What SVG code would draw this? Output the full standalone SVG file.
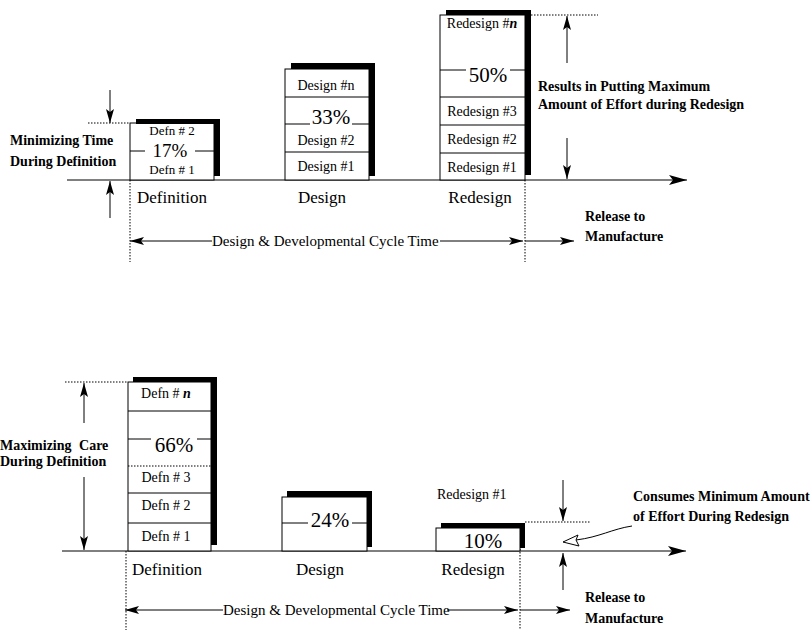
<svg xmlns="http://www.w3.org/2000/svg" width="811" height="630" viewBox="0 0 811 630">
<style>
text{font-family:"Liberation Serif","Times New Roman",serif;fill:#000}
.lb{font-size:14px}
.sm{font-size:13px}
.pc{font-size:21px}
.ph{font-size:17px}
.an{font-size:14px;font-weight:bold}
.cy{font-size:15px}
.ln{stroke:#000;stroke-width:1;fill:none}
.bx{stroke:#000;stroke-width:1;fill:#fff}
.dt{stroke:#000;stroke-width:1;fill:none;stroke-dasharray:1.5 1.5}
.hv{fill:#000}
</style>
<defs>
<marker id="ah" viewBox="0 0 14 8" refX="14" refY="4" markerWidth="14" markerHeight="8" markerUnits="userSpaceOnUse" orient="auto-start-reverse">
<path d="M0,0 L14,4 L0,8 L3,4 Z" fill="#000"/>
</marker>
<marker id="ahb" viewBox="0 0 18 10" refX="18" refY="5" markerWidth="18" markerHeight="10" markerUnits="userSpaceOnUse" orient="auto">
<path d="M0,0 L18,5 L0,10 L4,5 Z" fill="#000"/>
</marker>
</defs>
<rect width="811" height="630" fill="#fff"/>

<g id="connectors">
<line class="ln" x1="67" y1="180" x2="687" y2="180" marker-end="url(#ahb)"/>
<line class="dt" x1="130" y1="180" x2="130" y2="262"/>
<line class="dt" x1="525" y1="180" x2="525" y2="262"/>
<line class="dt" x1="88" y1="123" x2="130" y2="123"/>
<line class="dt" x1="531" y1="15" x2="598" y2="15"/>
<line class="ln" x1="110" y1="90" x2="110" y2="123" marker-end="url(#ah)"/>
<line class="ln" x1="110" y1="218" x2="110" y2="181" marker-end="url(#ah)"/>
<line class="ln" x1="567" y1="63" x2="567" y2="16" marker-end="url(#ah)"/>
<line class="ln" x1="567" y1="138" x2="567" y2="179" marker-end="url(#ah)"/>
<line class="ln" x1="130" y1="241" x2="212" y2="241" marker-start="url(#ah)"/>
<line class="ln" x1="440" y1="241" x2="523" y2="241" marker-end="url(#ah)"/>
<line class="ln" x1="525" y1="241" x2="574" y2="241" marker-end="url(#ah)"/>
<line class="ln" x1="62" y1="551" x2="686" y2="551" marker-end="url(#ahb)"/>
<line class="dt" x1="126" y1="551" x2="126" y2="630"/>
<line class="dt" x1="520" y1="528" x2="520" y2="630"/>
<line class="dt" x1="65" y1="382" x2="128" y2="382"/>
<line class="dt" x1="525" y1="522" x2="591" y2="522"/>
<line class="ln" x1="84" y1="423" x2="84" y2="383" marker-end="url(#ah)"/>
<line class="ln" x1="84" y1="477" x2="84" y2="550" marker-end="url(#ah)"/>
<line class="ln" x1="563" y1="480" x2="563" y2="521" marker-end="url(#ah)"/>
<line class="ln" x1="563" y1="590" x2="563" y2="553" marker-end="url(#ah)"/>
<line class="ln" x1="125" y1="610" x2="223" y2="610" marker-start="url(#ah)"/>
<line class="ln" x1="447" y1="610" x2="518" y2="610" marker-end="url(#ah)"/>
<line class="ln" x1="520" y1="610" x2="570" y2="610" marker-end="url(#ah)"/>
<path class="ln" d="M632,526 C612,529 600,537 576,540"/>
<path d="M563,542 L578,535 L576,540 L579,546 Z" fill="#fff" stroke="#000" stroke-width="1"/>
</g>

<g id="top-definition">
<rect class="bx" x="130" y="123" width="84" height="57"/>
<rect class="hv" x="136" y="119" width="84" height="5"/>
<rect class="hv" x="214" y="119" width="6" height="57"/>
<line class="ln" x1="130" y1="151" x2="145" y2="151"/>
<line class="ln" x1="195" y1="151" x2="214" y2="151"/>
<text class="sm" x="172" y="135" text-anchor="middle">Defn # 2</text>
<text x="170" y="157" text-anchor="middle" font-size="19">17%</text>
<text class="sm" x="172" y="174" text-anchor="middle">Defn # 1</text>
</g>

<g id="top-design">
<rect class="bx" x="285" y="69" width="84" height="111"/>
<rect class="hv" x="291" y="63" width="84" height="6"/>
<rect class="hv" x="369" y="63" width="6" height="113"/>
<line class="ln" x1="285" y1="97" x2="369" y2="97"/>
<line class="ln" x1="285" y1="124" x2="310" y2="124"/>
<line class="ln" x1="352" y1="124" x2="369" y2="124"/>
<line class="ln" x1="285" y1="152" x2="369" y2="152"/>
<text class="lb" x="326" y="90" text-anchor="middle">Design #n</text>
<text class="pc" x="331" y="124" text-anchor="middle">33%</text>
<text class="lb" x="326" y="145" text-anchor="middle">Design #2</text>
<text class="lb" x="326" y="171" text-anchor="middle">Design #1</text>
</g>

<g id="top-redesign">
<rect class="bx" x="440" y="15" width="85" height="165"/>
<rect class="hv" x="446" y="10" width="85" height="5"/>
<rect class="hv" x="525" y="10" width="6" height="165"/>
<line class="ln" x1="440" y1="70" x2="466" y2="70"/>
<line class="ln" x1="510" y1="70" x2="525" y2="70"/>
<line class="ln" x1="440" y1="97" x2="525" y2="97"/>
<line class="ln" x1="440" y1="125" x2="525" y2="125"/>
<line class="ln" x1="440" y1="153" x2="525" y2="153"/>
<text class="lb" x="482" y="28" text-anchor="middle">Redesign #<tspan font-style="italic" font-weight="bold">n</tspan></text>
<text class="pc" x="488" y="82" text-anchor="middle">50%</text>
<text class="lb" x="482" y="116" text-anchor="middle">Redesign #3</text>
<text class="lb" x="482" y="144" text-anchor="middle">Redesign #2</text>
<text class="lb" x="482" y="172" text-anchor="middle">Redesign #1</text>
</g>

<g id="top-labels">
<text class="an" x="10" y="145">Minimizing Time</text>
<text class="an" x="10" y="166">During Definition</text>
<text class="ph" x="137" y="203">Definition</text>
<text class="ph" x="322" y="203" text-anchor="middle">Design</text>
<text class="ph" x="480" y="203" text-anchor="middle">Redesign</text>
<text class="an" x="538" y="91">Results in Putting Maximum</text>
<text class="an" x="538" y="109">Amount of Effort during Redesign</text>
<text class="an" x="585" y="221">Release to</text>
<text class="an" x="585" y="241">Manufacture</text>
<text class="cy" x="212" y="246">Design &amp; Developmental Cycle Time</text>
</g>

<g id="bottom-definition">
<rect class="bx" x="128" y="382" width="83" height="169"/>
<rect class="hv" x="133" y="377" width="84" height="5"/>
<rect class="hv" x="211" y="377" width="6" height="168"/>
<line class="ln" x1="128" y1="411" x2="211" y2="411"/>
<line class="ln" x1="128" y1="439" x2="151" y2="439"/>
<line class="ln" x1="197" y1="439" x2="211" y2="439"/>
<line class="dt" x1="128" y1="466" x2="211" y2="466"/>
<line class="ln" x1="128" y1="493" x2="211" y2="493"/>
<line class="ln" x1="128" y1="523" x2="211" y2="523"/>
<text class="lb" x="166" y="398" text-anchor="middle">Defn # <tspan font-style="italic" font-weight="bold">n</tspan></text>
<text class="pc" x="174" y="452" text-anchor="middle">66%</text>
<text class="lb" x="166" y="482" text-anchor="middle">Defn # 3</text>
<text class="lb" x="166" y="510" text-anchor="middle">Defn # 2</text>
<text class="lb" x="166" y="541" text-anchor="middle">Defn # 1</text>
</g>

<g id="bottom-design">
<rect class="bx" x="282" y="497" width="85" height="54"/>
<rect class="hv" x="287" y="491" width="85" height="6"/>
<rect class="hv" x="367" y="491" width="5" height="56"/>
<line class="ln" x1="282" y1="523" x2="308" y2="523"/>
<line class="ln" x1="352" y1="523" x2="367" y2="523"/>
<text class="pc" x="330" y="527" text-anchor="middle">24%</text>
</g>

<g id="bottom-redesign">
<rect class="bx" x="436" y="528" width="84" height="23"/>
<rect class="hv" x="441" y="523" width="84" height="5"/>
<rect class="hv" x="520" y="523" width="5" height="25"/>
<text class="pc" x="483" y="548" text-anchor="middle">10%</text>
</g>

<g id="bottom-labels">
<text class="an" x="0" y="450">Maximizing <tspan dx="4">Care</tspan></text>
<text class="an" x="0" y="466">During Definition</text>
<text class="ph" x="132" y="575">Definition</text>
<text class="ph" x="320" y="575" text-anchor="middle">Design</text>
<text class="ph" x="473" y="575" text-anchor="middle">Redesign</text>
<text class="lb" x="437" y="499">Redesign #1</text>
<text class="an" x="633" y="501">Consumes Minimum Amount</text>
<text class="an" x="633" y="521">of Effort During Redesign</text>
<text class="an" x="585" y="602">Release to</text>
<text class="an" x="585" y="623">Manufacture</text>
<text class="cy" x="223" y="615">Design &amp; Developmental Cycle Time</text>
</g>
</svg>
